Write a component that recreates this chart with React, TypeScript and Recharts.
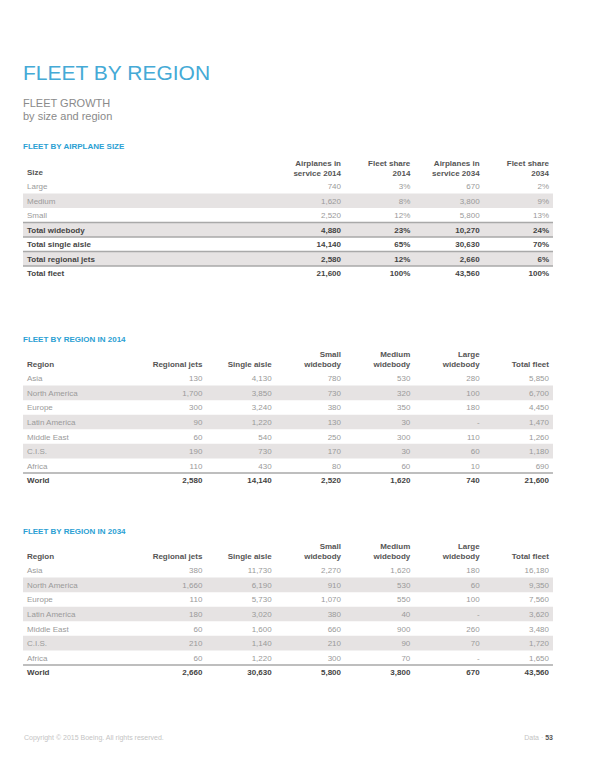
import React from "react";
import { ScatterChart, Scatter, XAxis, YAxis, ReferenceLine } from "recharts";

const FONT = "'Liberation Sans', Arial, Helvetica, sans-serif";
const COL_W = 416 / 6;

// ---- Fleet by airplane size ----
const sizeRows = [
  "Large",
  "Medium",
  "Small",
  "Total widebody",
  "Total single aisle",
  "Total regional jets",
  "Total fleet",
];
const sizeColumns = [
  ["Airplanes in", "service 2014"],
  ["Fleet share", "2014"],
  ["Airplanes in", "service 2034"],
  ["Fleet share", "2034"],
];
const airplanes2014 = [740, 1620, 2520, 4880, 14140, 2580, 21600];
const share2014 = [3, 8, 12, 23, 65, 12, 100];
const airplanes2034 = [670, 3800, 5800, 10270, 30630, 2660, 43560];
const share2034 = [2, 9, 13, 24, 70, 6, 100];

// ---- Fleet by region ----
const regions = [
  "Asia",
  "North America",
  "Europe",
  "Latin America",
  "Middle East",
  "C.I.S.",
  "Africa",
  "World",
];
const regionColumns = [
  ["", "Regional jets"],
  ["", "Single aisle"],
  ["Small", "widebody"],
  ["Medium", "widebody"],
  ["Large", "widebody"],
  ["", "Total fleet"],
];
const regional2014 = [130, 1700, 300, 90, 60, 190, 110, 2580];
const singleAisle2014 = [4130, 3850, 3240, 1220, 540, 730, 430, 14140];
const smallWide2014 = [780, 730, 380, 130, 250, 170, 80, 2520];
const mediumWide2014 = [530, 320, 350, 30, 300, 30, 60, 1620];
const largeWide2014 = [280, 100, 180, null, 110, 60, 10, 740];
const total2014 = [5850, 6700, 4450, 1470, 1260, 1180, 690, 21600];

const regional2034 = [380, 1660, 110, 180, 60, 210, 60, 2660];
const singleAisle2034 = [11730, 6190, 5730, 3020, 1600, 1140, 1220, 30630];
const smallWide2034 = [2270, 910, 1070, 380, 660, 210, 300, 5800];
const mediumWide2034 = [1620, 530, 550, 40, 900, 90, 70, 3800];
const largeWide2034 = [180, 60, 100, null, 260, 70, null, 670];
const total2034 = [16180, 9350, 7560, 3620, 3480, 1720, 1650, 43560];

const num = (v: number | null) => (v == null ? "-" : v.toLocaleString("en-US"));
const pct = (v: number) => `${v}%`;

interface TableProps {
  top: number;
  pitch: number;
  rows: string[];
  columns: string[][];
  values: string[][];
  boldRows: string[];
  shadedRows: string[];
  lineRows: string[];
}

const HEAD = 30;

function DataTable({ top, pitch, rows, columns, values, boldRows, shadedRows, lineRows }: TableProps) {
  const keys = columns.map((c) => c.join(" ").trim());
  const cells = rows.flatMap((row, r) =>
    keys.map((col, c) => ({
      row,
      col,
      text: values[c][r],
      bold: boldRows.includes(row),
    }))
  );
  const height = HEAD + rows.length * pitch + 2;
  const padLeft = 110 + (6 - columns.length) * COL_W;

  const HeaderTick = (props: any) => {
    const { x, y, payload } = props;
    const lines = columns[keys.indexOf(payload.value)] || ["", ""];
    return (
      <g>
        <text x={x + COL_W / 2} y={y - 13.5} textAnchor="end" fontSize={8} fontFamily={FONT} fontWeight={700} fill="#555">
          {lines[0]}
        </text>
        <text x={x + COL_W / 2} y={y - 3.5} textAnchor="end" fontSize={8} fontFamily={FONT} fontWeight={700} fill="#555">
          {lines[1]}
        </text>
      </g>
    );
  };

  const RowTick = (props: any) => {
    const { x, y, payload } = props;
    const bold = boldRows.includes(payload.value);
    return (
      <text x={x + 4} y={y + 3} textAnchor="start" fontSize={8} fontFamily={FONT} fontWeight={bold ? 700 : 400} fill={bold ? "#444" : "#9a9a9a"}>
        {payload.value}
      </text>
    );
  };

  const CellText = (props: any) => {
    const { cx, cy, payload } = props;
    return (
      <text
        x={cx + COL_W / 2}
        y={cy + 3}
        textAnchor="end"
        fontSize={8}
        fontFamily={FONT}
        fontWeight={payload.bold ? 700 : 400}
        fill={payload.bold ? "#444" : "#9a9a9a"}
      >
        {payload.text}
      </text>
    );
  };

  return (
    <div style={{ position: "absolute", left: 0, top: top - HEAD, width: 600, height }}>
      <ScatterChart width={600} height={height} margin={{ top: 0, right: 47, bottom: 2, left: 23 }}>
        {/* shaded rows: a line as thick as the row band, across the full table width */}
        {shadedRows.map((r) => (
          <ReferenceLine key={`band-${r}`} y={r} position="middle" stroke="#e6e3e3" strokeWidth={pitch} ifOverflow="visible" />
        ))}
        {lineRows.map((r) => (
          <ReferenceLine key={`line-${r}`} y={r} position="start" stroke="#a9a9a9" strokeWidth={1.5} ifOverflow="visible" />
        ))}
        <XAxis
          type="category"
          dataKey="col"
          orientation="top"
          allowDuplicatedCategory={false}
          height={HEAD}
          axisLine={false}
          tickLine={false}
          tickSize={0}
          tickMargin={0}
          padding={{ left: padLeft, right: 4 }}
          tick={<HeaderTick />}
          interval={0}
        />
        <YAxis
          type="category"
          dataKey="row"
          allowDuplicatedCategory={false}
          reversed
          mirror
          axisLine={false}
          tickLine={false}
          tickSize={0}
          tickMargin={0}
          tick={<RowTick />}
          interval={0}
        />
        <Scatter data={cells} isAnimationActive={false} shape={<CellText />} />
      </ScatterChart>
    </div>
  );
}

export default function App() {
  const sizeValues = [
    airplanes2014.map(num),
    share2014.map(pct),
    airplanes2034.map(num),
    share2034.map(pct),
  ];
  const values2014 = [regional2014, singleAisle2014, smallWide2014, mediumWide2014, largeWide2014, total2014].map((s) => s.map(num));
  const values2034 = [regional2034, singleAisle2034, smallWide2034, mediumWide2034, largeWide2034, total2034].map((s) => s.map(num));
  const shadedRegions = ["North America", "Latin America", "C.I.S."];

  return (
    <div style={{ position: "absolute", left: 0, top: 0, width: 600, height: 776, background: "#fff", fontFamily: FONT }}>
      <svg width={600} height={776} style={{ position: "absolute", left: 0, top: 0 }}>
        <text x={23} y={80} fontSize={21} fill="#45aad6" fontFamily={FONT} fontWeight={300}>FLEET BY REGION</text>
        <text x={23} y={107} fontSize={11} fill="#8a8a8a" fontFamily={FONT}>FLEET GROWTH</text>
        <text x={23} y={120} fontSize={11} fill="#8a8a8a" fontFamily={FONT}>by size and region</text>

        <text x={23} y={149} fontSize={8} fontWeight={700} fill="#2b9fd3" fontFamily={FONT}>FLEET BY AIRPLANE SIZE</text>
        <text x={27} y={178.75 - 3.5} fontSize={8} fontWeight={700} fill="#555" fontFamily={FONT}>Size</text>

        <text x={23} y={341.5} fontSize={8} fontWeight={700} fill="#2b9fd3" fontFamily={FONT}>FLEET BY REGION IN 2014</text>
        <text x={27} y={370.7 - 3.5} fontSize={8} fontWeight={700} fill="#555" fontFamily={FONT}>Region</text>

        <text x={23} y={533.5} fontSize={8} fontWeight={700} fill="#2b9fd3" fontFamily={FONT}>FLEET BY REGION IN 2034</text>
        <text x={27} y={562.7 - 3.5} fontSize={8} fontWeight={700} fill="#555" fontFamily={FONT}>Region</text>

        <text x={24} y={739.5} fontSize={7} fill="#c4c4c4" fontFamily={FONT}>Copyright © 2015 Boeing. All rights reserved.</text>
        <text x={553} y={739.5} fontSize={7} textAnchor="end" fontFamily={FONT}>
          <tspan fill="#c4c4c4">Data · </tspan>
          <tspan fill="#555" fontWeight={700}>53</tspan>
        </text>
      </svg>

      <DataTable
        top={178.75}
        pitch={14.5}
        rows={sizeRows}
        columns={sizeColumns}
        values={sizeValues}
        boldRows={["Total widebody", "Total single aisle", "Total regional jets", "Total fleet"]}
        shadedRows={["Medium", "Total widebody", "Total regional jets"]}
        lineRows={["Total widebody", "Total single aisle", "Total regional jets", "Total fleet"]}
      />
      <DataTable
        top={370.7}
        pitch={14.57}
        rows={regions}
        columns={regionColumns}
        values={values2014}
        boldRows={["World"]}
        shadedRows={shadedRegions}
        lineRows={["World"]}
      />
      <DataTable
        top={562.7}
        pitch={14.57}
        rows={regions}
        columns={regionColumns}
        values={values2034}
        boldRows={["World"]}
        shadedRows={shadedRegions}
        lineRows={["World"]}
      />
    </div>
  );
}
